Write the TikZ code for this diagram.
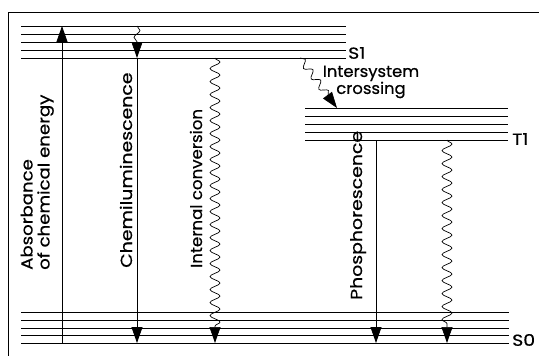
\documentclass[tikz,border=0pt]{standalone}
\usepackage{graphicx}
\usepackage{fontspec}
\setmainfont{Poppins}[FakeBold=0.6, FakeStretch=1.18]
\usetikzlibrary{arrows.meta,decorations.pathmorphing}
\newcommand{\narrow}[2][0.87]{\scalebox{#1}[1]{#2}}
\begin{document}
\begin{tikzpicture}[x=1pt,y=-1pt,
  every node/.style={inner sep=0pt, font=\fontsize{16}{17}\selectfont},
  level/.style={line width=0.9pt},
  frame/.style={line width=0.8pt},
  tip/.style={-{Triangle[length=16pt,width=11pt]}},
  straight/.style={line width=0.8pt, tip},
  wavy/.style={line width=0.7pt, tip, decorate,
    decoration={snake, amplitude=5pt, segment length=13pt, post length=16pt}},
  lab/.style={rotate=90, anchor=base west},
]
\useasboundingbox[fill=white] (0,0) rectangle (539,364);
% frame (cropped box)
\draw[frame] (539,12) -- (8,12) -- (8,356);
% S1 levels
\foreach \y in {26,34,42,50,58} \draw[level] (21,\y) -- (346,\y);
\node[anchor=west] (S1) at (348,53) {S1};
% T1 levels
\foreach \y in {108,116,124,132,140} \draw[level] (305,\y) -- (508,\y);
\node[anchor=west] (T1) at (512,139) {T1};
% S0 levels
\foreach \y in {312,320,328,335,343} \draw[level] (21,\y) -- (509,\y);
\node[anchor=west] (S0) at (512,340) {S0};
% coordinates
\coordinate (absB) at (62,343);
\coordinate (absT) at (62,26);
\coordinate (chT) at (137,26);
\coordinate (chM) at (137,58);
\coordinate (chB) at (137,343);
\coordinate (icT) at (215,58);
\coordinate (icB) at (215,343);
\coordinate (iscA) at (300,58);
\coordinate (iscB) at (337,108);
\coordinate (phT) at (376,140);
\coordinate (phB) at (376,343);
\coordinate (rwT) at (447,140);
\coordinate (rwB) at (447,343);
% arrows
\draw[straight] (absB) -- (absT);
\draw[wavy, decoration={snake, amplitude=3pt, segment length=14pt, post length=16pt}] (chT) -- (chM);
\draw[straight] (chM) -- (chB);
\draw[wavy] (icT) -- (icB);
\draw[wavy, decoration={snake, amplitude=3.5pt, segment length=13pt, post length=14pt}] (iscA) -- (iscB);
\draw[straight] (phT) -- (phB);
\draw[wavy] (rwT) -- (rwB);
% labels
\node[rotate=90, anchor=south west, align=left] (absl) at (54,270) {\narrow[0.96]{Absorbance}\\\narrow[0.96]{of chemical energy}};
\node[lab] (chl) at (132,268) {Chemiluminescence};
\node[lab] (icl) at (202,268) {\narrow[0.88]{Internal conversion}};
\node[lab] (phl) at (362,300) {Phosphorescence};
\node[align=center] (iscl) at (371,82) {\narrow{Intersystem}\\\narrow{crossing}};
\end{tikzpicture}
\end{document}
